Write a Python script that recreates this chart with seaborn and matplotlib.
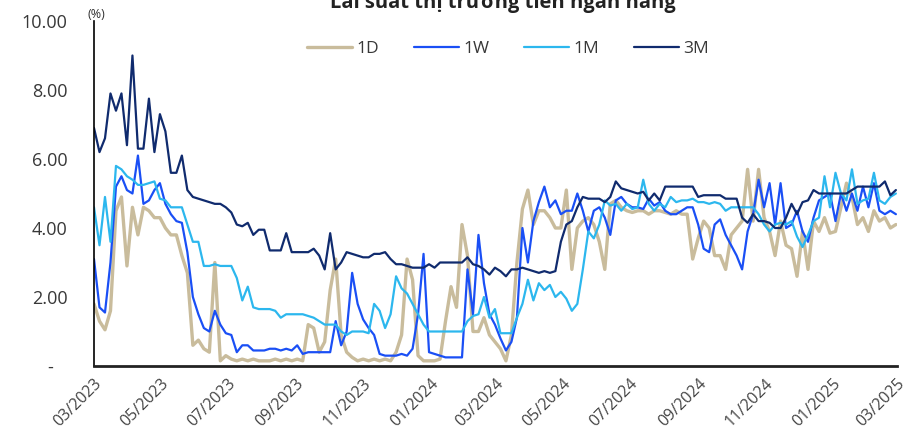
import pandas as pd
import seaborn as sns
import matplotlib.pyplot as plt
import matplotlib.dates as mdates
from matplotlib.ticker import FuncFormatter

# Interbank rates, every 5 days from 01/03/2023
start_date = '2023-03-01'
step_days = 5

rate_1d = [1.8, 1.3, 1.05, 1.6, 4.5, 4.9, 2.9, 4.6, 3.8, 4.6, 4.5, 4.3, 4.3, 4.0, 3.8, 3.8, 3.2, 2.7, 0.6, 0.75, 0.5, 0.4, 3.0, 0.15, 0.3,
           0.2, 0.15, 0.2, 0.15, 0.2, 0.15, 0.15, 0.15, 0.2, 0.15, 0.2, 0.15, 0.2, 0.15, 1.2, 1.1, 0.4, 0.7, 2.2, 3.1, 0.9, 0.4, 0.25, 0.15, 0.2,
           0.15, 0.2, 0.15, 0.2, 0.15, 0.4, 0.9, 3.1, 2.5, 0.3, 0.15, 0.15, 0.15, 0.2, 1.3, 2.3, 1.7, 4.1, 3.2, 1.0, 1.0, 1.4, 0.9, 0.7,
           0.5, 0.15, 0.9, 3.0, 4.55, 5.1, 4.1, 4.5, 4.5, 4.3, 4.0, 4.0, 5.1, 2.8, 4.0, 4.2, 4.3, 4.1, 3.6, 2.8, 4.7, 4.8, 4.6, 4.5, 4.45,
           4.5, 4.5, 4.4, 4.5, 4.5, 4.45, 4.4, 4.5, 4.4, 4.4, 3.1, 3.7, 4.2, 4.0, 3.2, 3.2, 2.8, 3.8, 4.0, 4.2, 5.7, 4.2, 5.7, 4.3, 3.9,
           3.2, 4.2, 3.5, 3.4, 2.6, 3.9, 2.8, 4.2, 3.9, 4.3, 3.85, 3.9, 4.6, 5.3, 4.9, 4.1, 4.3, 3.9, 4.5, 4.2, 4.3, 4.0, 4.1]

rate_1w = [3.1, 1.7, 1.55, 3.0, 5.2, 5.5, 5.1, 5.0, 6.1, 4.7, 4.8, 5.1, 5.3, 4.7, 4.4, 4.2, 4.15, 3.3, 2.0, 1.5, 1.1, 1.0, 1.6, 1.2, 0.95,
           0.9, 0.4, 0.6, 0.6, 0.45, 0.45, 0.45, 0.5, 0.5, 0.45, 0.5, 0.45, 0.6, 0.35, 0.4, 0.4, 0.4, 0.4, 0.4, 1.3, 0.6, 1.0, 2.7, 1.8, 1.35,
           1.1, 0.9, 0.35, 0.3, 0.3, 0.3, 0.35, 0.3, 0.5, 1.5, 3.25, 0.4, 0.35, 0.3, 0.25, 0.25, 0.25, 0.25, 2.8, 1.5, 3.8, 2.4, 1.5, 1.2,
           0.8, 0.45, 0.7, 1.4, 4.0, 3.0, 4.2, 4.75, 5.2, 4.6, 4.8, 4.4, 4.5, 4.5, 5.0, 4.5, 3.9, 4.5, 4.6, 4.3, 3.8, 4.8, 4.9, 4.7, 4.6,
           4.6, 4.55, 4.85, 4.65, 4.75, 4.5, 4.4, 4.4, 4.5, 4.6, 4.6, 4.1, 3.4, 3.3, 4.1, 4.25, 3.8, 3.5, 3.2, 2.8, 3.9, 4.4, 5.4, 4.6, 5.3,
           4.1, 5.3, 4.0, 4.1, 4.5, 3.9, 3.6, 4.3, 4.8, 4.9, 5.0, 4.2, 5.0, 4.5, 5.0, 4.5, 5.2, 4.6, 5.3, 4.5, 4.4, 4.5, 4.4]

rate_1m = [4.6, 3.5, 4.9, 3.6, 5.8, 5.7, 5.5, 5.4, 5.25, 5.25, 5.3, 5.35, 4.85, 4.8, 4.6, 4.6, 4.6, 4.1, 3.6, 3.6, 2.9, 2.9, 2.95, 2.9, 2.9,
           2.9, 2.55, 1.9, 2.3, 1.7, 1.65, 1.65, 1.65, 1.6, 1.4, 1.5, 1.5, 1.5, 1.5, 1.45, 1.4, 1.3, 1.2, 1.2, 1.2, 1.0, 0.9, 1.0, 1.0, 1.0,
           0.95, 1.8, 1.6, 1.1, 1.5, 2.6, 2.25, 2.1, 1.8, 1.5, 1.2, 1.0, 1.0, 1.0, 1.0, 1.0, 1.0, 1.0, 1.3, 1.45, 1.5, 2.0, 1.4, 1.65,
           0.95, 0.95, 0.95, 1.4, 1.8, 2.5, 1.9, 2.4, 2.2, 2.35, 2.0, 2.15, 1.95, 1.6, 1.8, 2.8, 3.9, 3.7, 4.1, 4.8, 4.65, 4.7, 4.5, 4.7, 4.55,
           4.6, 5.4, 4.7, 4.5, 4.7, 4.6, 4.9, 4.75, 4.8, 4.8, 4.85, 4.75, 4.75, 4.7, 4.75, 4.7, 4.5, 4.6, 4.6, 4.6, 4.6, 4.6, 4.4, 4.1, 3.9,
           4.1, 4.15, 4.1, 4.2, 3.75, 3.45, 3.8, 4.2, 4.3, 5.5, 4.6, 5.6, 5.0, 4.8, 5.7, 4.7, 4.8, 4.85, 5.6, 4.8, 4.7, 4.9, 5.0]

rate_3m = [6.9, 6.2, 6.6, 7.9, 7.4, 7.9, 6.4, 9.0, 6.3, 6.3, 7.75, 6.2, 7.3, 6.8, 5.6, 5.6, 6.1, 5.1, 4.9, 4.85, 4.8, 4.75, 4.7, 4.7, 4.6,
           4.45, 4.1, 4.05, 4.15, 3.8, 3.95, 3.95, 3.35, 3.35, 3.35, 3.85, 3.3, 3.3, 3.3, 3.3, 3.4, 3.2, 2.8, 3.85, 2.8, 3.0, 3.3, 3.25, 3.2, 3.15,
           3.15, 3.25, 3.25, 3.3, 3.1, 2.95, 2.95, 2.9, 2.85, 2.85, 2.85, 2.95, 2.85, 3.0, 3.0, 3.0, 3.0, 3.0, 3.15, 2.95, 2.9, 2.8, 2.65, 2.85,
           2.75, 2.6, 2.8, 2.8, 2.85, 2.8, 2.75, 2.7, 2.75, 2.7, 2.75, 3.6, 4.1, 4.2, 4.6, 4.9, 4.85, 4.85, 4.85, 4.75, 4.9, 5.35, 5.15, 5.1, 5.05,
           5.0, 5.05, 4.8, 5.0, 4.8, 5.2, 5.2, 5.2, 5.2, 5.2, 5.2, 4.9, 4.95, 4.95, 4.95, 4.95, 4.85, 4.85, 4.85, 4.3, 4.15, 4.4, 4.2, 4.2, 4.15,
           4.0, 4.0, 4.3, 4.7, 4.4, 4.75, 4.8, 5.1, 5.0, 5.0, 5.0, 5.0, 5.0, 5.0, 5.1, 5.2, 5.2, 5.2, 5.2, 5.2, 5.35, 4.95, 5.1]

series_names = ['1D', '1W', '1M', '3M']
series_values = [rate_1d, rate_1w, rate_1m, rate_3m]
colors = ['#c9bc9c', '#1a4ff5', '#2cb7ee', '#102b6e']
widths = [2.4, 1.6, 1.6, 1.6]

title = 'Lãi suất thị trường tiền ngân hàng'

dates = pd.date_range(start_date, periods=len(rate_1d), freq=f'{step_days}D')

sns.set_style('white')
plt.rcParams['font.family'] = ['Open Sans', 'DejaVu Sans']

fig = plt.figure(figsize=(9.11, 4.36), dpi=100)
ax = fig.add_axes([94 / 911, 1 - 366 / 436, 803 / 911, 345 / 436])

for name, vals, col, lw in zip(series_names, series_values, colors, widths):
    sns.lineplot(x=dates, y=vals, ax=ax, color=col, linewidth=lw, label=name)

ax.set_xlim(pd.Timestamp('2023-03-01'), pd.Timestamp('2025-03-01'))
ax.set_ylim(0, 10)
ax.set_yticks([0, 2, 4, 6, 8, 10])
ax.yaxis.set_major_formatter(FuncFormatter(lambda v, p: '-   ' if v == 0 else f'{v:.2f}'))
ax.xaxis.set_major_locator(mdates.MonthLocator(bymonth=[1, 3, 5, 7, 9, 11]))
ax.xaxis.set_major_formatter(mdates.DateFormatter('%m/%Y'))
ax.set_xlabel('')
ax.set_ylabel('')

for lbl in ax.get_xticklabels():
    lbl.set_rotation(45)
    lbl.set_ha('right')
    lbl.set_va('top')
    lbl.set_rotation_mode('anchor')

ax.tick_params(axis='y', direction='out', length=5, width=1, color='black', labelsize=13, pad=14, labelcolor='#383838')
ax.tick_params(axis='x', length=0, labelsize=11.5, pad=7, labelcolor='#444444')

ax.spines['top'].set_visible(False)
ax.spines['right'].set_visible(False)
ax.spines['left'].set_color('black')
ax.spines['left'].set_linewidth(1.2)
ax.spines['bottom'].set_color('#222222')
ax.spines['bottom'].set_linewidth(2)

ax.legend(loc='center', bbox_to_anchor=(508 / 911, 1 - 49 / 436), bbox_transform=fig.transFigure,
          ncol=4, frameon=False, fontsize=12.5, handlelength=2.6, handletextpad=0.25,
          columnspacing=2.0, labelcolor='#383838')

fig.text(96 / 911, 1 - 14 / 436, '(%)', fontsize=9, color='#333333', ha='center', va='center')
fig.text(503 / 911, 1 - 8 / 436, title, fontsize=14.5, fontweight='bold', color='#222222',
         ha='center', va='baseline')

fig.savefig('out.png', dpi=100)
